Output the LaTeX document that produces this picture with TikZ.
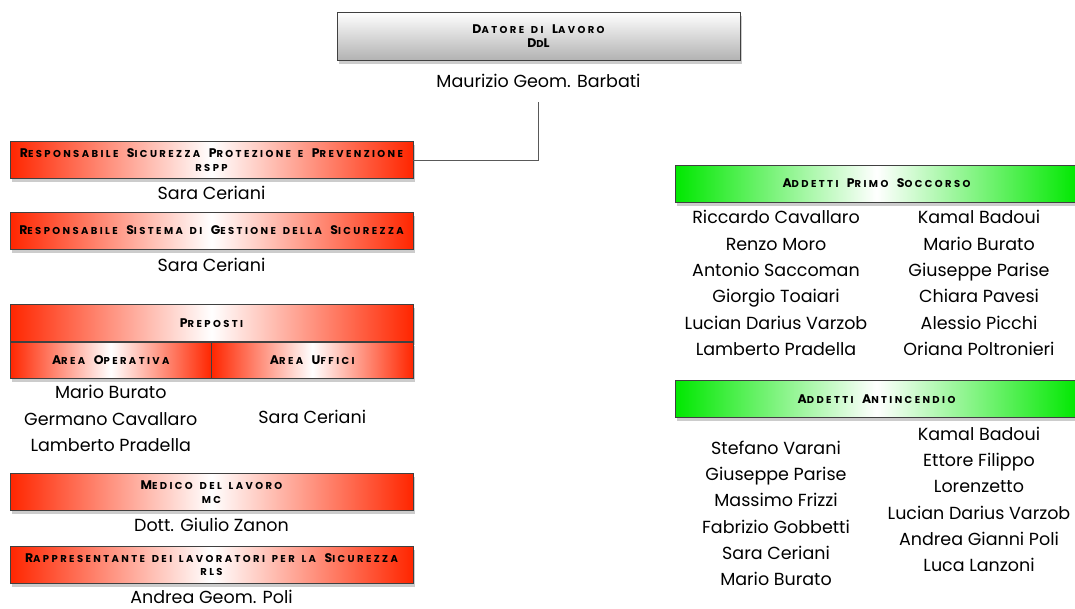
\documentclass[tikz,border=0pt]{standalone}
\usepackage{fontspec}
\setmainfont{Poppins}
\newfontfamily\hdfont[LetterSpace=24, WordSpace=1.5]{Poppins}
\newcommand\lc[1]{{\fontsize{10}{13.5}\selectfont#1}}
\usetikzlibrary{positioning, shadows}
\definecolor{boxred}{RGB}{255,38,0}
\definecolor{boxgreen}{RGB}{0,232,0}

\begin{document}
\begin{tikzpicture}[
    x=1pt, y=-1pt,
    box/.style={rectangle, draw=black!75, line width=0.6pt, align=center, inner sep=1pt,
        font=\hdfont\bfseries\fontsize{12.5}{13.5}\selectfont,
        drop shadow={opacity=0.4, shadow xshift=1.5pt, shadow yshift=-3.5pt}},
    topbox/.style={box, top color=white, bottom color=black!30, minimum width=403pt, minimum height=48pt},
    redbox/.style={box, left color=boxred, right color=boxred, middle color=white, minimum width=403pt, minimum height=37pt},
    halfbox/.style={redbox, minimum width=201.5pt, minimum height=36pt},
    greenbox/.style={box, left color=boxgreen, right color=boxgreen, middle color=white, minimum width=403pt, minimum height=37pt},
    names/.style={align=center, inner sep=0pt, font=\fontsize{17.5}{26.3}\selectfont},
    link/.style={draw=black!65, line width=0.8pt}
]
\useasboundingbox (0,0) rectangle (1075,608);

% Datore di lavoro
\node[topbox] (ddl) at (538.5,36) {D\lc{ATORE DI} L\lc{AVORO}\\D\lc{D}L};
\node[names, below=14pt of ddl] (ddl_name) {Maurizio Geom. Barbati};

% Colonna sinistra
\node[redbox] (rspp) at (211.5,160) {R\lc{ESPONSABILE} S\lc{ICUREZZA} P\lc{ROTEZIONE E} P\lc{REVENZIONE}\\\lc{RSPP}};
\node[names, below=7.5pt of rspp] (rspp_name) {Sara Ceriani};
\node[redbox] (rsgs) at (211.5,230.5) {R\lc{ESPONSABILE} S\lc{ISTEMA DI} G\lc{ESTIONE DELLA} S\lc{ICUREZZA}};
\node[names, below=8.5pt of rsgs] (rsgs_name) {Sara Ceriani};

\node[redbox] (prep) at (211.5,323) {P\lc{REPOSTI}};
\node[halfbox, anchor=north west] (area_op) at (prep.south west) {A\lc{REA} O\lc{PERATIVA}};
\node[halfbox, anchor=north east] (area_uff) at (prep.south east) {A\lc{REA} U\lc{FFICI}};
\node[names, below=7pt of area_op] (op_names) {Mario Burato\\Germano Cavallaro\\Lamberto Pradella};
\node[names, below=32pt of area_uff] (uff_names) {Sara Ceriani};

\node[redbox] (mc) at (211.5,492) {M\lc{EDICO DEL LAVORO}\\\lc{MC}};
\node[names, below=7.5pt of mc] (mc_name) {Dott. Giulio Zanon};
\node[redbox] (rls) at (211.5,564.5) {R\lc{APPRESENTANTE DEI LAVORATORI PER LA} S\lc{ICUREZZA}\\\lc{RLS}};
\node[names, below=6.5pt of rls] (rls_name) {Andrea Geom. Poli};

% Colonna destra
\node[greenbox] (ps) at (876.5,183.5) {A\lc{DDETTI} P\lc{RIMO} S\lc{OCCORSO}};
\node[names, below=8pt of ps, xshift=-100.5pt] (ps_left) {Riccardo Cavallaro\\Renzo Moro\\Antonio Saccoman\\Giorgio Toaiari\\Lucian Darius Varzob\\Lamberto Pradella};
\node[names, below=8pt of ps, xshift=102.5pt] (ps_right) {Kamal Badoui\\Mario Burato\\Giuseppe Parise\\Chiara Pavesi\\Alessio Picchi\\Oriana Poltronieri};

\node[greenbox] (ai) at (876.5,399) {A\lc{DDETTI} A\lc{NTINCENDIO}};
\node[names, below=23pt of ai, xshift=-100.5pt] (ai_left) {Stefano Varani\\Giuseppe Parise\\Massimo Frizzi\\Fabrizio Gobbetti\\Sara Ceriani\\Mario Burato};
\node[names, below=9pt of ai, xshift=102.5pt] (ai_right) {Kamal Badoui\\Ettore Filippo\\Lorenzetto\\Lucian Darius Varzob\\Andrea Gianni Poli\\Luca Lanzoni};

% collegamento
\coordinate[below=14pt of ddl_name] (drop);
\path[link] (drop) |- (rspp.east);

\end{tikzpicture}
\end{document}
